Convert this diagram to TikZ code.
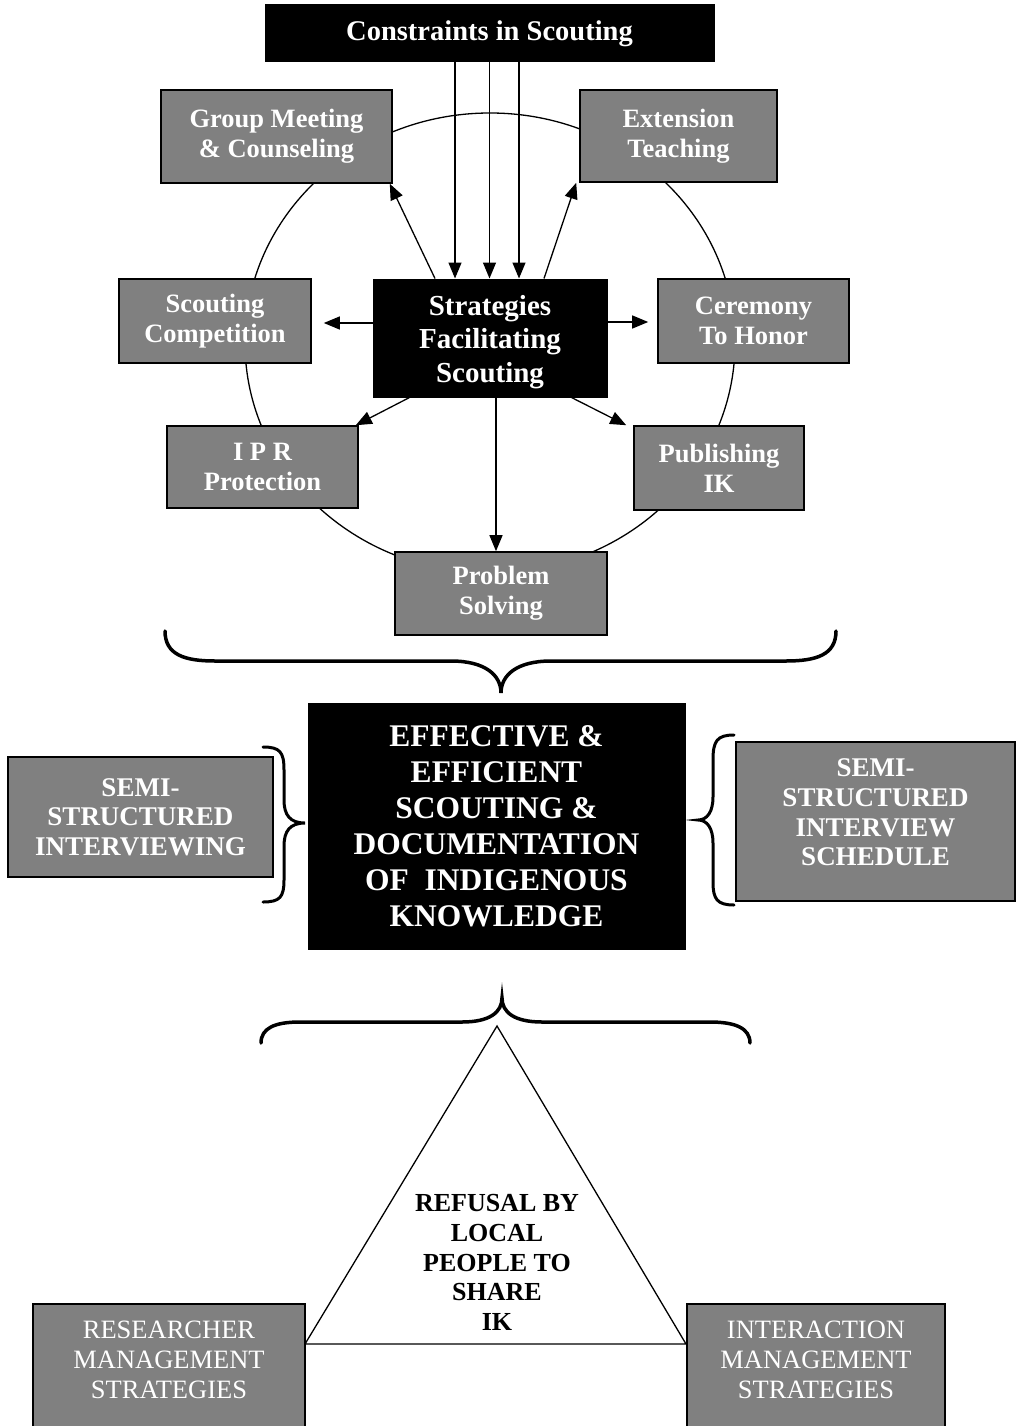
\documentclass[tikz,border=0pt]{standalone}
\usepackage{fontspec}
\setmainfont{Liberation Serif}
\usetikzlibrary{arrows.meta,calc}
\definecolor{boxgray}{HTML}{808080}
\begin{document}
\begin{tikzpicture}[x=1pt,y=-1pt,
  graybox/.style={draw=black, line width=1.6pt, fill=boxgray, text=white, align=center, inner sep=0pt,
    font=\bfseries\fontsize{26.5}{30}\selectfont},
  blackbox/.style={draw=black, line width=1pt, fill=black, text=white, align=center, inner sep=0pt},
  plaintext/.style={align=center, inner sep=0pt},
  arr/.style={line width=1.3pt, -{Triangle[length=16pt,width=13pt]}},
  bracepath/.style={line width=3.5pt, line cap=round},
]
\useasboundingbox (0,0) rectangle (1018,1426);

% ring behind the boxes
\draw[line width=1.3pt] (490,343) ellipse [x radius=245pt, y radius=230pt];

% top region
\node[blackbox, minimum width=449pt, minimum height=57pt,
  font=\bfseries\fontsize{28.5}{32}\selectfont] (cons) at (489.5,33.5) {Constraints in Scouting};
\node[graybox, minimum width=231pt, minimum height=93pt] (group) at (276.5,136.5) {Group Meeting\\\& Counseling};
\node[graybox, minimum width=197pt, minimum height=92pt] (ext) at (678.5,136) {Extension\\Teaching};
\node[graybox, minimum width=192pt, minimum height=84pt] (comp) at (215,321) {Scouting\\Competition};
\node[blackbox, minimum width=234pt, minimum height=118pt] (strat) at (490,338) {};
\node[plaintext, text=white, font=\bfseries\fontsize{29}{33.5}\selectfont] (stratT) at (490,342)
  {Strategies\\Facilitating\\Scouting};
\node[graybox, minimum width=191pt, minimum height=84pt] (cer) at (753.5,321) {Ceremony\\To Honor};
\node[graybox, minimum width=191pt, minimum height=82pt] (ipr) at (262.5,467) {I P R\\Protection};
\node[graybox, minimum width=170pt, minimum height=84pt] (pub) at (719,468) {Publishing\\IK};
\node[graybox, minimum width=212pt, minimum height=83pt] (prob) at (501,593.5) {Problem\\Solving};

% arrows from constraints
\draw[arr] ([xshift=-34.5pt]cons.south) -- ([xshift=-34.5pt]cons.south |- strat.north);
\draw[arr] (cons.south) -- (cons.south |- strat.north);
\draw[arr] ([xshift=29.5pt]cons.south) -- ([xshift=29.5pt]cons.south |- strat.north);

% arrows from strategies
\draw[arr] ([xshift=-55pt]strat.north) -- ([xshift=-3pt]group.south east);
\draw[arr] ([xshift=54pt]strat.north) -- ([xshift=-3pt]ext.south west);
\draw[arr, shorten >=12pt] ([yshift=15pt]strat.west) -- ([yshift=15pt]strat.west -| comp.east);
\draw[arr, shorten >=9pt] ([yshift=16pt]strat.east) -- ([yshift=16pt]strat.east -| cer.west);
\draw[arr] ([xshift=37pt]strat.south west) -- ([xshift=-3pt]ipr.north east);
\draw[arr] ([xshift=-36pt]strat.south east) -- ([xshift=-7pt]pub.north west);
\draw[arr] ([xshift=6pt]strat.south) -- ([xshift=6pt]strat.south |- prob.north);

% brace under the ring
\draw[bracepath] (165,631) .. controls (165,655) and (185,661) .. (215,661) -- (451,661)
  .. controls (485,661) and (501,675) .. (501,693)
  .. controls (501,675) and (517,661) .. (551,661) -- (786,661)
  .. controls (816,661) and (836,655) .. (836,631);

% middle region
\node[blackbox, minimum width=377pt, minimum height=246pt,
  font=\bfseries\fontsize{31.5}{36}\selectfont] (eff) at (496.5,826)
  {EFFECTIVE \&\\EFFICIENT\\SCOUTING \&\\DOCUMENTATION\\OF\ \ INDIGENOUS\\KNOWLEDGE};
\node[graybox, minimum width=265pt, minimum height=120pt,
  font=\bfseries\fontsize{27}{29.7}\selectfont] (semil) at (140.5,817) {SEMI-\\STRUCTURED\\INTERVIEWING};
\node[graybox, minimum width=279pt, minimum height=159pt] (semirbox) at (875.5,821.5) {};
\node[plaintext, text=white, font=\bfseries\fontsize{27}{29.7}\selectfont] (semir) at (875.5,812.5)
  {SEMI-\\STRUCTURED\\INTERVIEW\\SCHEDULE};

% side braces
\draw[line width=3pt, line cap=round] (263,747) .. controls (280,747) and (284,752) .. (284,770) -- (284,800)
  .. controls (284,815) and (290,823) .. (305,823)
  .. controls (290,823) and (284,831) .. (284,846) -- (284,880)
  .. controls (284,897) and (280,902) .. (263,902);
\draw[line width=3pt, line cap=round] (734,735) .. controls (717,735) and (713,741) .. (713,760) -- (713,797)
  .. controls (713,812) and (707,820) .. (698,820)
  .. controls (707,820) and (713,828) .. (713,843) -- (713,882)
  .. controls (713,899) and (717,905) .. (734,905);

% brace above the triangle
\draw[bracepath] (261,1043) .. controls (261,1028) and (275,1022) .. (300,1022) -- (462,1022)
  .. controls (490,1022) and (502,1012) .. (502,998)
  .. controls (502,1012) and (514,1022) .. (542,1022) -- (710,1022)
  .. controls (735,1022) and (750,1028) .. (750,1043);

% triangle
\coordinate (apex) at (497,1026);
\coordinate (bl) at (305,1344);
\coordinate (br) at (686,1344);
\draw[line width=1.3pt, fill=white] (apex) -- (br) -- (bl) -- cycle;
\node[plaintext, font=\bfseries\fontsize{26}{29.7}\selectfont] (refusal) at (497,1262.5)
  {REFUSAL BY\\LOCAL\\PEOPLE TO\\SHARE\\IK};

% bottom boxes (running off the page)
\node[graybox, minimum width=272pt, minimum height=136pt] (resbox) at (169,1372) {};
\node[plaintext, text=white, font=\fontsize{26.5}{30}\selectfont] (res) at (169,1360)
  {RESEARCHER\\MANAGEMENT\\STRATEGIES};
\node[graybox, minimum width=258pt, minimum height=136pt] (intbox) at (816,1372) {};
\node[plaintext, text=white, font=\fontsize{26.5}{30}\selectfont] (int) at (816,1360)
  {INTERACTION\\MANAGEMENT\\STRATEGIES};
\end{tikzpicture}
\end{document}
